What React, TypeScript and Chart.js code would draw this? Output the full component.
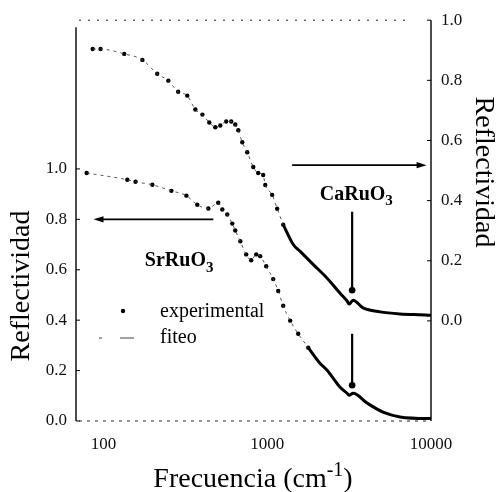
import React, { useEffect, useRef } from "react";
import { Chart, registerables } from "chart.js";

Chart.register(...registerables);

const FONT = "'Liberation Serif', 'Times New Roman', serif";

// ---- axes ----
const xMin = 68;
const xMax = 10000;
const xTicks = [100, 1000, 10000];
const yTicks = [0, 0.2, 0.4, 0.6, 0.8, 1.0];
const leftMin = 0;
const leftMax = 1.59;
const rightMin = -0.333;
const rightMax = 1.0;

// ---- CaRuO3 (right axis) ----
const caFreq = [86, 96, 134, 173, 213, 249, 286, 325, 364, 402, 443, 482, 517, 562, 603, 638, 666, 704, 755, 822, 881, 945, 973, 1072, 1150, 1252];
const caRefl = [0.904, 0.904, 0.888, 0.868, 0.822, 0.799, 0.762, 0.749, 0.703, 0.686, 0.660, 0.644, 0.650, 0.663, 0.663, 0.653, 0.634, 0.594, 0.561, 0.512, 0.492, 0.485, 0.452, 0.419, 0.373, 0.320];
const caFreqHi = [1252, 1442, 1590, 1906, 2321, 2786, 3074, 3162, 3345, 3847, 4886, 6471, 9593, 10000];
const caReflHi = [0.320, 0.254, 0.231, 0.188, 0.142, 0.092, 0.066, 0.056, 0.069, 0.043, 0.030, 0.023, 0.019, 0.018];

// ---- SrRuO3 (left axis) ----
const srFreq = [79, 140, 157, 199, 260, 321, 374, 437, 502, 532, 570, 612, 638, 685, 744, 798, 857, 906, 986, 1088, 1167, 1252, 1381, 1546, 1780];
const srRefl = [0.984, 0.957, 0.949, 0.937, 0.913, 0.894, 0.858, 0.843, 0.866, 0.839, 0.819, 0.783, 0.756, 0.713, 0.661, 0.638, 0.661, 0.654, 0.614, 0.563, 0.516, 0.457, 0.398, 0.346, 0.291];
const srFreqHi = [1780, 2105, 2321, 2786, 3074, 3162, 3345, 4074, 5097, 6471, 9593, 10000];
const srReflHi = [0.291, 0.228, 0.201, 0.134, 0.110, 0.102, 0.110, 0.071, 0.035, 0.016, 0.010, 0.010];

// ---- annotations (data coordinates) ----
const markerFreq = 3300;
const caMarker = [0.363, 0.102]; // right axis
const srMarker = [0.346, 0.142]; // left axis
const caArrow = { from: 1420, to: 9400, y: 0.518 };
const srArrow = { from: 469, to: 87, y: 0.8 };
const caLabel = { f: 3500, y: 0.425 };
const srLabel = { f: 290, y: 0.64 };

const pts = (xs: number[], ys: number[]) => xs.map((x, i) => ({ x, y: ys[i] }));

const decor = {
  id: "decor",
  beforeDraw(chart: any) {
    const { ctx, width, height } = chart;
    ctx.save();
    ctx.fillStyle = "#fff";
    ctx.fillRect(0, 0, width, height);
    ctx.restore();
  },
  afterDraw(chart: any) {
    const { ctx, chartArea } = chart;
    const { left, right, top, bottom } = chartArea;
    const x = chart.scales.x;
    const yL = chart.scales.yL;
    const yR = chart.scales.yR;
    const line = (x1: number, y1: number, x2: number, y2: number) => {
      ctx.beginPath();
      ctx.moveTo(x1, y1);
      ctx.lineTo(x2, y2);
      ctx.stroke();
    };
    ctx.save();
    ctx.strokeStyle = "#000";
    ctx.fillStyle = "#000";
    // frame
    ctx.lineWidth = 1.4;
    line(left, top + 7, left, bottom);
    line(right, top, right, bottom);
    ctx.lineWidth = 1;
    ctx.strokeStyle = "#222";
    ctx.setLineDash([2, 7]);
    line(left + 3, top, right - 25, top);
    ctx.setLineDash([3, 5]);
    line(left + 3, bottom, right, bottom);
    ctx.setLineDash([]);
    ctx.strokeStyle = "#000";
    // inward ticks
    ctx.lineWidth = 1;
    yTicks.forEach((v) => {
      const pl = yL.getPixelForValue(v);
      line(left, pl, left + 4, pl);
      const pr = yR.getPixelForValue(v);
      line(right - 4, pr, right, pr);
    });

    // horizontal arrows
    const hArrow = (f1: number, f2: number, py: number) => {
      const x1 = x.getPixelForValue(f1);
      const x2 = x.getPixelForValue(f2);
      const dir = Math.sign(x2 - x1);
      ctx.lineWidth = 1.8;
      line(x1, py, x2 - dir * 6, py);
      ctx.beginPath();
      ctx.moveTo(x2, py);
      ctx.lineTo(x2 - dir * 10, py - 3.2);
      ctx.lineTo(x2 - dir * 10, py + 3.2);
      ctx.closePath();
      ctx.fill();
    };
    hArrow(caArrow.from, caArrow.to, yR.getPixelForValue(caArrow.y));
    hArrow(srArrow.from, srArrow.to, yL.getPixelForValue(srArrow.y));

    // vertical markers
    const mx = x.getPixelForValue(markerFreq);
    const vMark = (y1: number, y2: number) => {
      ctx.lineWidth = 2.2;
      line(mx, y1, mx, y2);
      ctx.beginPath();
      ctx.arc(mx, y2, 3.3, 0, Math.PI * 2);
      ctx.fill();
    };
    vMark(yR.getPixelForValue(caMarker[0]), yR.getPixelForValue(caMarker[1]));
    vMark(yL.getPixelForValue(srMarker[0]), yL.getPixelForValue(srMarker[1]));

    // chemical labels
    const chem = (main: string, sub: string, cx: number, cy: number, size: number) => {
      ctx.textBaseline = "alphabetic";
      ctx.textAlign = "left";
      ctx.font = `bold ${size}px ${FONT}`;
      const w1 = ctx.measureText(main).width;
      ctx.font = `bold ${Math.round(size * 0.75)}px ${FONT}`;
      const w2 = ctx.measureText(sub).width;
      const x0 = cx - (w1 + w2) / 2;
      const base = cy + size * 0.33;
      ctx.font = `bold ${size}px ${FONT}`;
      ctx.fillText(main, x0, base);
      ctx.font = `bold ${Math.round(size * 0.75)}px ${FONT}`;
      ctx.fillText(sub, x0 + w1, base + size * 0.28);
    };
    chem("CaRuO", "3", x.getPixelForValue(caLabel.f), yR.getPixelForValue(caLabel.y), 20);
    chem("SrRuO", "3", x.getPixelForValue(srLabel.f), yL.getPixelForValue(srLabel.y), 20);

    // legend
    ctx.font = `20px ${FONT}`;
    ctx.textBaseline = "middle";
    ctx.textAlign = "left";
    ctx.beginPath();
    ctx.arc(123, 311, 2.2, 0, Math.PI * 2);
    ctx.fill();
    ctx.fillText("experimental", 160, 312);
    ctx.lineWidth = 1;
    ctx.strokeStyle = "#444";
    line(99, 338, 102, 338);
    line(120, 338, 134, 338);
    ctx.fillText("fiteo", 160, 338);

    // axis titles
    ctx.fillStyle = "#000";
    ctx.font = `28px ${FONT}`;
    ctx.textAlign = "center";
    ctx.textBaseline = "middle";
    ctx.save();
    ctx.translate(22, 286);
    ctx.rotate(-Math.PI / 2);
    ctx.fillText("Reflectividad", 0, 0);
    ctx.restore();
    ctx.save();
    ctx.translate(483, 172);
    ctx.rotate(Math.PI / 2);
    ctx.fillText("Reflectividad", 0, 0);
    ctx.restore();

    // x title with superscript
    const t1 = "Frecuencia (cm";
    const sup = "-1";
    const t3 = ")";
    ctx.textAlign = "left";
    ctx.textBaseline = "alphabetic";
    ctx.font = `28px ${FONT}`;
    const a = ctx.measureText(t1).width;
    const c = ctx.measureText(t3).width;
    ctx.font = `20px ${FONT}`;
    const b = ctx.measureText(sup).width;
    const xs = 253 - (a + b + c) / 2;
    const base = 487;
    ctx.font = `28px ${FONT}`;
    ctx.fillText(t1, xs, base);
    ctx.font = `20px ${FONT}`;
    ctx.fillText(sup, xs + a, base - 11);
    ctx.font = `28px ${FONT}`;
    ctx.fillText(t3, xs + a + b, base);
    ctx.restore();
  },
};

export default function App() {
  const ref = useRef<HTMLCanvasElement | null>(null);
  useEffect(() => {
    if (!ref.current) return;
    const tickFont = { family: FONT, size: 17 };
    const chart = new Chart(ref.current, {
      type: "scatter",
      data: {
        datasets: [
          { label: "CaRuO3 exp hi", data: pts(caFreqHi, caReflHi), yAxisID: "yR", showLine: true, pointRadius: 0, borderColor: "#000", borderWidth: 3, cubicInterpolationMode: "monotone" },
          { label: "SrRuO3 exp hi", data: pts(srFreqHi, srReflHi), yAxisID: "yL", showLine: true, pointRadius: 0, borderColor: "#000", borderWidth: 3, cubicInterpolationMode: "monotone" },
          { label: "CaRuO3 fiteo", data: pts(caFreq, caRefl), yAxisID: "yR", showLine: true, pointRadius: 0, borderColor: "#444", borderWidth: 0.9, borderDash: [3, 4], cubicInterpolationMode: "monotone" },
          { label: "SrRuO3 fiteo", data: pts(srFreq, srRefl), yAxisID: "yL", showLine: true, pointRadius: 0, borderColor: "#444", borderWidth: 0.9, borderDash: [3, 4], cubicInterpolationMode: "monotone" },
          { label: "CaRuO3 experimental", data: pts(caFreq, caRefl), yAxisID: "yR", showLine: false, pointRadius: 2.2, pointBorderWidth: 0, backgroundColor: "#000", borderColor: "#000" },
          { label: "SrRuO3 experimental", data: pts(srFreq, srRefl), yAxisID: "yL", showLine: false, pointRadius: 2.2, pointBorderWidth: 0, backgroundColor: "#000", borderColor: "#000" },
        ],
      } as any,
      options: {
        responsive: false,
        animation: false,
        layout: { padding: { top: 17, left: 0, right: 0, bottom: 0 } },
        plugins: { legend: { display: false }, tooltip: { enabled: false } },
        scales: {
          x: {
            type: "logarithmic",
            min: xMin,
            max: xMax,
            afterFit: (s: any) => { s.height = 71; },
            afterBuildTicks: (s: any) => { s.ticks = xTicks.map((v) => ({ value: v })); },
            grid: { display: false, drawTicks: false },
            border: { display: false },
            ticks: { padding: 13, color: "#111", font: tickFont, autoSkip: false, maxRotation: 0, callback: (v: any) => String(v) },
          },
          yL: {
            type: "linear",
            position: "left",
            min: leftMin,
            max: leftMax,
            afterFit: (s: any) => { s.width = 76; },
            afterBuildTicks: (s: any) => { s.ticks = yTicks.map((v) => ({ value: v })); },
            grid: { display: false, drawTicks: false },
            border: { display: false },
            ticks: { padding: 9, color: "#111", font: tickFont, callback: (v: any) => Number(v).toFixed(1) },
          },
          yR: {
            type: "linear",
            position: "right",
            min: rightMin,
            max: rightMax,
            afterFit: (s: any) => { s.width = 66; },
            afterBuildTicks: (s: any) => { s.ticks = yTicks.map((v) => ({ value: v })); },
            grid: { display: false, drawTicks: false },
            border: { display: false },
            ticks: { padding: 10, color: "#111", font: tickFont, callback: (v: any) => Number(v).toFixed(1) },
          },
        },
      } as any,
      plugins: [decor],
    });
    return () => chart.destroy();
  }, []);
  return (
    <div style={{ position: "absolute", left: 0, top: 0, width: 497, height: 492 }}>
      <canvas ref={ref} width={497} height={492} style={{ display: "block", width: 497, height: 492 }} />
    </div>
  );
}
